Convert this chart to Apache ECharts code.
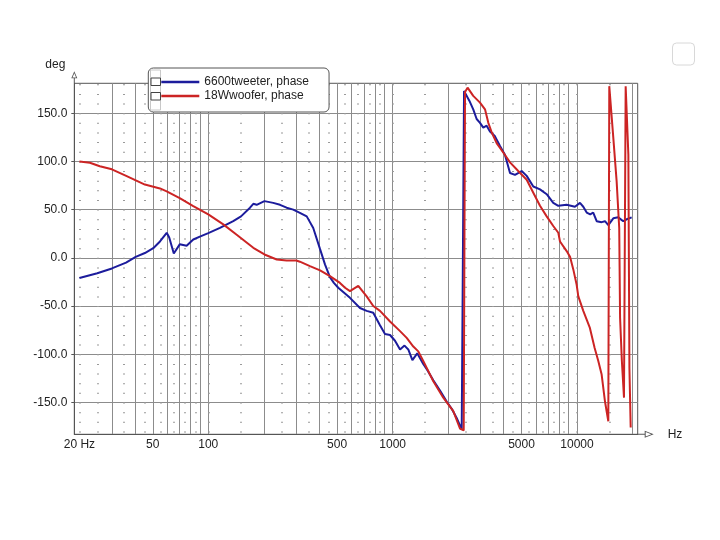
<!DOCTYPE html>
<html><head><meta charset="utf-8">
<script src="https://cdn.jsdelivr.net/npm/echarts@6/dist/echarts.min.js"></script>
<style>html,body{margin:0;padding:0;background:#fff}#c{width:720px;height:540px}</style>
</head><body><div id="c"></div>
<script>
const seriesNames = ['6600tweeter, phase', '18Wwoofer, phase'];

const tweeterFreq = [20, 25, 30, 35.8, 40.4, 45.3, 50.3, 54.7, 59.5, 61.4, 65, 70, 76.3, 82.9, 90, 100, 115.7, 136.6, 150.5, 168.4, 175.5, 183, 201.7, 225, 245, 266, 289, 314, 342, 371, 404, 430, 457, 480, 507, 518, 587, 665, 723, 785, 854, 909, 968, 1030, 1097, 1160, 1216, 1280, 1360, 1466, 1550, 1662, 1800, 1964, 2100, 2225, 2370, 2420, 2440, 2470, 2606, 2737, 2856, 2978, 3103, 3237, 3373, 3592, 3823, 4066, 4333, 4612, 5012, 5336, 5795, 6300, 6850, 7436, 7920, 8790, 9750, 10380, 10820, 11290, 11800, 12250, 12790, 13610, 14190, 14790, 15740, 16750, 17830, 18600, 19800];
const tweeterPhase = [-21, -16, -11, -5, 1, 5, 10, 17, 26, 21, 4.5, 14, 12.5, 19, 22, 25.6, 31, 38, 43, 52, 56, 55, 58.8, 57, 55, 52, 50, 46.7, 43, 31, 9, -7, -20, -26, -31, -33, -41.5, -52, -55, -57, -70, -79, -80, -86, -95, -91, -95, -106, -99, -110, -117, -127, -137, -149, -157, -166, -178, -180, 173, 172, 163, 154, 144, 140, 135, 137, 131, 126, 116, 107, 88, 86, 90, 85, 74, 71, 66, 57, 54, 55, 53, 57, 53, 47, 45, 47, 38, 37, 38, 34, 41, 42, 38, 40, 42];

const wooferFreq = [20, 22.8, 25.8, 30, 36.1, 45.3, 54.7, 59.5, 70, 82.9, 100, 120.6, 142.6, 175.5, 201.7, 235, 266, 300, 314, 356, 404, 457, 518, 552, 587, 651, 723, 785, 854, 968, 1097, 1192, 1295, 1378, 1466, 1662, 1883, 2133, 2318, 2430, 2470, 2550, 2737, 2978, 3170, 3304, 3450, 3666, 3990, 4333, 4800, 5336, 5795, 6300, 6850, 7436, 7920, 8090, 8790, 9170, 9550, 9960, 10170, 10820, 11750, 12470, 13050, 13610, 14190, 14790, 14900, 14970, 15740, 16410, 16950, 17130, 17520, 17990, 18370, 19000, 19250, 19560];
const wooferPhase = [100, 98.6, 95, 91.8, 84.8, 76, 72, 69, 62, 53.7, 45, 34.7, 24, 10.4, 3.5, -1.7, -2.7, -2.7, -4, -8.6, -13, -19, -26, -31, -34.5, -29, -40, -50, -55, -66, -76, -83, -92, -97, -107, -128, -145, -159, -177, -179, 172, 176.5, 168, 161, 154, 140, 130, 119, 109, 99, 90, 81, 67.5, 54, 43, 33, 26, 17, 7, 1, -12, -28, -40, -55, -72.7, -93.4, -107, -121, -149, -169.5, -170, 178, 124.6, 79.6, 31, -62, -107, -145, 178, 107, -114, -176];

const xLabelTicks = [20, 50, 100, 500, 1000, 5000, 10000];
const xMajorGrid = [30, 40, 50, 60, 70, 80, 90, 100, 200, 300, 400, 500, 600, 700, 800, 900, 1000, 2000, 3000, 4000, 5000, 6000, 7000, 8000, 9000, 10000, 20000];
const xMinorGrid = [20, 25, 35, 45, 55, 65, 75, 85, 100, 150, 250, 350, 450, 550, 650, 750, 850, 1000, 1500, 2500, 3500, 4500, 5500, 6500, 7500, 8500, 10000, 15000];
const yLabelTicks = [-150, -100, -50, 0, 50, 100, 150];

const X_MIN = 18.76, X_MAX = 21350, Y_MIN = -183, Y_MAX = 181;
const FONT = 'Liberation Sans';
const AXIS_COLOR = '#555';
const GRID_COLOR = '#8c8c8c';
const BLUE = '#1c1c9c';
const RED = '#cc2424';

const xArrow = 'path://M3.5 0 L7 9 L0 9 Z M3.5 2.4 L1.3 8 L5.7 8 Z M3 9 L4 9 L4 16 L3 16 Z';
const yArrow = 'path://M3 0 L6 7 L0 7 Z M3 2 L1.2 6.2 L4.8 6.2 Z M2.5 7 L3.5 7 L3.5 12 L2.5 12 Z';

const chart = echarts.init(document.getElementById('c'));
chart.setOption({
  animation: false,
  backgroundColor: '#fff',
  grid: {left: 74.3, top: 83.3, width: 563.4, height: 351, show: true, borderColor: AXIS_COLOR, borderWidth: 1, containLabel: false, outerBoundsMode: 'none'},
  legend: {
    orient: 'vertical', left: 148.3, top: 68,
    padding: [7, 20, 9, 13], itemGap: 0, itemWidth: 38, itemHeight: 2.5,
    icon: 'rect', selectedMode: false,
    backgroundColor: '#fff', borderColor: '#555', borderWidth: 1, borderRadius: 5,
    textStyle: {fontSize: 12, fontFamily: FONT, color: '#222', lineHeight: 14},
    data: seriesNames
  },
  xAxis: [{
    type: 'log', min: X_MIN, max: X_MAX, gridIndex: 0, position: 'bottom',
    name: 'Hz', nameLocation: 'end', nameGap: 30, nameMoveOverlap: false,
    nameTextStyle: {fontSize: 12, fontFamily: FONT, color: '#222', align: 'left', verticalAlign: 'middle'},
    axisLine: {show: true, onZero: false, lineStyle: {color: AXIS_COLOR, width: 1}, symbol: ['none', xArrow], symbolSize: [7, 16], symbolOffset: [0, 8]},
    axisTick: {show: false, customValues: xMajorGrid},
    axisLabel: {customValues: xLabelTicks, margin: 4, fontSize: 12, fontFamily: FONT, color: '#222',
      formatter: v => { const r = Math.round(v); return r === 20 ? '20 Hz' : String(r); }},
    splitLine: {show: true, lineStyle: {color: GRID_COLOR, width: 1}}
  }, {
    type: 'log', min: X_MIN, max: X_MAX, gridIndex: 0, position: 'top',
    axisLine: {show: false, onZero: false}, axisLabel: {show: false},
    axisTick: {show: false, customValues: xMinorGrid},
    splitLine: {show: true, lineStyle: {color: '#9a9a9a', width: 2, type: [1, 8.643], dashOffset: 8.68}}
  }],
  yAxis: {
    type: 'value', min: Y_MIN, max: Y_MAX,
    name: 'deg', nameLocation: 'end', nameGap: 13, nameMoveOverlap: false,
    nameTextStyle: {fontSize: 12, fontFamily: FONT, color: '#222', align: 'right', padding: [0, 9, 0, 0]},
    axisLine: {show: true, onZero: false, lineStyle: {color: AXIS_COLOR, width: 1}, symbol: ['none', yArrow], symbolSize: [6, 12], symbolOffset: [0, 6]},
    axisTick: {show: true, length: 3, customValues: yLabelTicks, lineStyle: {color: AXIS_COLOR}},
    axisLabel: {customValues: yLabelTicks, margin: 7, fontSize: 12, fontFamily: FONT, color: '#222',
      formatter: v => Number(v).toFixed(1)},
    splitLine: {show: true, lineStyle: {color: GRID_COLOR, width: 1}}
  },
  series: [{
    name: seriesNames[0], type: 'line', xAxisIndex: 0,
    data: tweeterFreq.map((f, i) => [f, tweeterPhase[i]]),
    showSymbol: false, symbol: 'none',
    lineStyle: {color: BLUE, width: 2}, itemStyle: {color: BLUE}
  }, {
    name: seriesNames[1], type: 'line', xAxisIndex: 0,
    data: wooferFreq.map((f, i) => [f, wooferPhase[i]]),
    showSymbol: false, symbol: 'none',
    lineStyle: {color: RED, width: 2}, itemStyle: {color: RED}
  }],
  graphic: [
    {type: 'rect', z: 100, shape: {x: 150.5, y: 70, width: 10, height: 40}, style: {fill: 'none', stroke: '#c8c8c8', lineWidth: 1}},
    {type: 'rect', z: 101, shape: {x: 151, y: 78, width: 9.5, height: 7.5}, style: {fill: '#fff', stroke: '#444', lineWidth: 1}},
    {type: 'rect', z: 101, shape: {x: 151, y: 92.5, width: 9.5, height: 7.5}, style: {fill: '#fff', stroke: '#444', lineWidth: 1}},
    {type: 'rect', z: 100, shape: {x: 672.5, y: 43, width: 22, height: 22, r: 4}, style: {fill: 'none', stroke: '#d8d8d8', lineWidth: 1}}
  ]
});
</script>
</body></html>
